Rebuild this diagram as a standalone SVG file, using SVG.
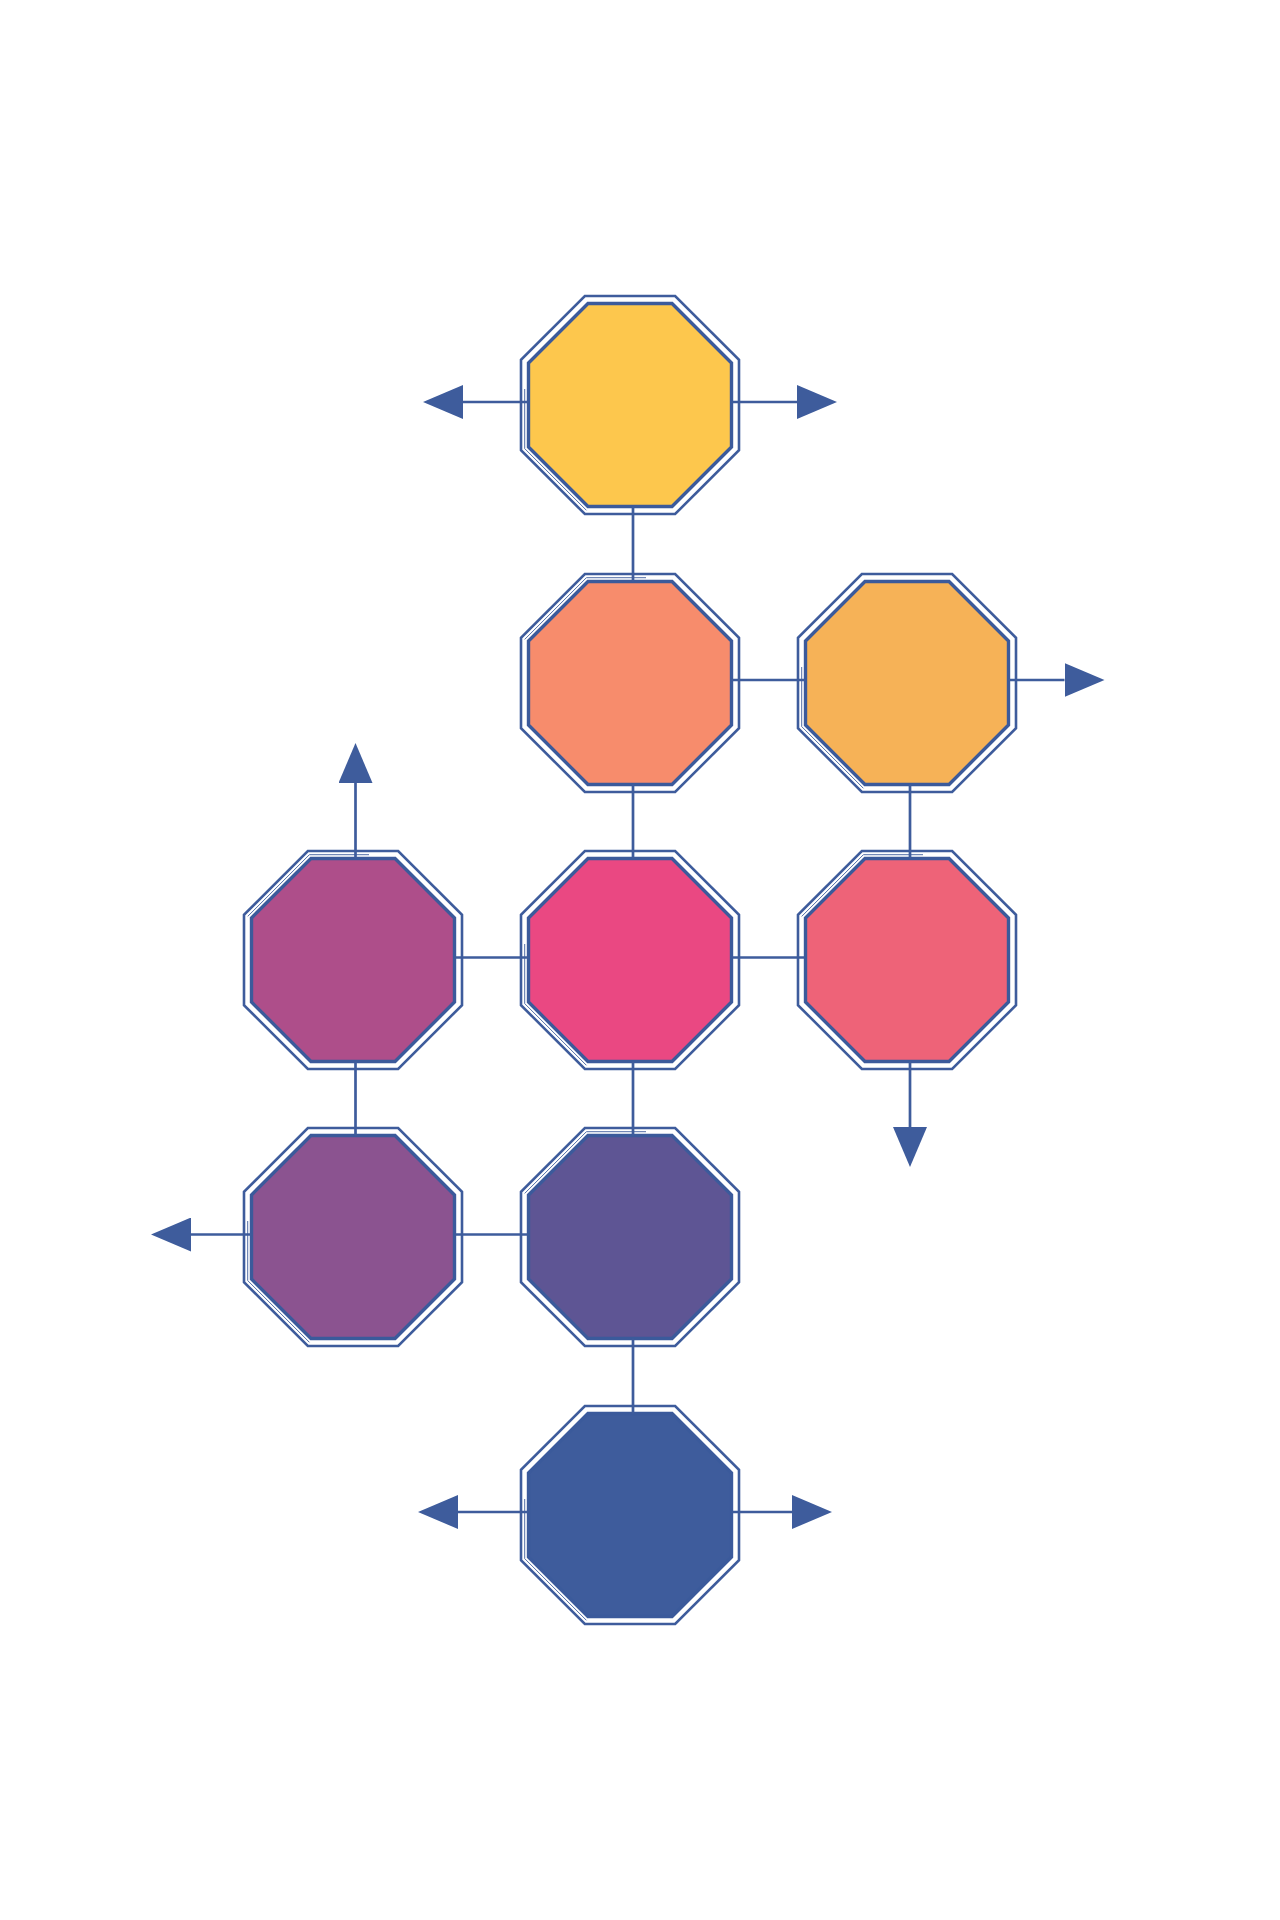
<svg xmlns="http://www.w3.org/2000/svg" xmlns:xlink="http://www.w3.org/1999/xlink" width="1280" height="1920" viewBox="0 0 1280 1920">
<style>
.outer{fill:#ffffff;stroke:#3E5C9C;stroke-width:2.6}
.inner{stroke:#3B5A9B;stroke-width:3.4}
.thin{fill:none;stroke:#3E5C9C;stroke-width:0.9}
.con{fill:none;stroke:#3E5C9C;stroke-width:2.7}
.arr{fill:none;stroke:#3E5C9C;stroke-width:2.7;marker-end:url(#head)}
</style>
<defs>
<marker id="head" markerUnits="userSpaceOnUse" markerWidth="40" markerHeight="34" refX="0" refY="17" orient="auto" viewBox="0 0 40 34">
<path d="M0,0 L40,17 L0,34 z" fill="#3E5C9C"/>
</marker>
<polygon id="oct-out" points="-45.15,-109 45.15,-109 109,-45.15 109,45.15 45.15,109 -45.15,109 -109,45.15 -109,-45.15"/>
<polygon id="oct-in" points="-42.04,-101.5 42.04,-101.5 101.5,-42.04 101.5,42.04 42.04,101.5 -42.04,101.5 -101.5,42.04 -101.5,-42.04"/>
<path id="thinA" d="M-105.3,-16 V43.6 L-43.6,105.3"/>
<path id="thinB" d="M16,-105.3 H-43.6 L-105.3,-43.6"/>
</defs>
<rect width="1280" height="1920" fill="#ffffff"/>

<g id="n1" transform="translate(630,405)">
<use xlink:href="#oct-out" class="outer"/>
<use xlink:href="#thinA" class="thin"/>
<use xlink:href="#oct-in" class="inner" fill="#FDC74D"/>
</g>
<g id="n2" transform="translate(630,683)">
<use xlink:href="#oct-out" class="outer"/>
<use xlink:href="#thinB" class="thin"/>
<use xlink:href="#oct-in" class="inner" fill="#F78C6C"/>
</g>
<g id="n3" transform="translate(907,683)">
<use xlink:href="#oct-out" class="outer"/>
<use xlink:href="#thinA" class="thin"/>
<use xlink:href="#oct-in" class="inner" fill="#F6B257"/>
</g>
<g id="n4" transform="translate(353,960)">
<use xlink:href="#oct-out" class="outer"/>
<use xlink:href="#thinB" class="thin"/>
<use xlink:href="#oct-in" class="inner" fill="#AE4E8A"/>
</g>
<g id="n5" transform="translate(630,960)">
<use xlink:href="#oct-out" class="outer"/>
<use xlink:href="#thinA" class="thin"/>
<use xlink:href="#oct-in" class="inner" fill="#EA4882"/>
</g>
<g id="n6" transform="translate(907,960)">
<use xlink:href="#oct-out" class="outer"/>
<use xlink:href="#thinB" class="thin"/>
<use xlink:href="#oct-in" class="inner" fill="#EE6378"/>
</g>
<g id="n7" transform="translate(353,1237)">
<use xlink:href="#oct-out" class="outer"/>
<use xlink:href="#thinA" class="thin"/>
<use xlink:href="#oct-in" class="inner" fill="#8B5390"/>
</g>
<g id="n8" transform="translate(630,1237)">
<use xlink:href="#oct-out" class="outer"/>
<use xlink:href="#thinB" class="thin"/>
<use xlink:href="#oct-in" class="inner" fill="#5E5594"/>
</g>
<g id="n9" transform="translate(630,1515)">
<use xlink:href="#oct-out" class="outer"/>
<use xlink:href="#thinA" class="thin"/>
<use xlink:href="#oct-in" class="inner" fill="#3E5C9C"/>
</g>

<g id="connectors">
<line class="con" x1="633" y1="507" x2="633" y2="581.5"/>
<line class="arr" x1="528.5" y1="402" x2="463" y2="402"/>
<line class="arr" x1="731.5" y1="402" x2="797" y2="402"/>
<line class="con" x1="731.5" y1="680" x2="805.5" y2="680"/>
<line class="arr" x1="1008.5" y1="680" x2="1064.5" y2="680"/>
<line class="con" x1="633" y1="784.5" x2="633" y2="858.5"/>
<line class="con" x1="910" y1="784.5" x2="910" y2="858.5"/>
<line class="arr" x1="355.5" y1="858.5" x2="355.5" y2="783"/>
<line class="con" x1="454.5" y1="957.5" x2="528.5" y2="957.5"/>
<line class="con" x1="731.5" y1="957.5" x2="805.5" y2="957.5"/>
<line class="arr" x1="910" y1="1061.5" x2="910" y2="1127"/>
<line class="con" x1="355.5" y1="1061.5" x2="355.5" y2="1135.5"/>
<line class="con" x1="633" y1="1061.5" x2="633" y2="1135.5"/>
<line class="arr" x1="251.5" y1="1234.5" x2="191" y2="1234.5"/>
<line class="con" x1="454.5" y1="1234.5" x2="528.5" y2="1234.5"/>
<line class="con" x1="633" y1="1338.5" x2="633" y2="1413.5"/>
<line class="arr" x1="528.5" y1="1512" x2="458" y2="1512"/>
<line class="arr" x1="731.5" y1="1512" x2="792" y2="1512"/>
</g>
</svg>
